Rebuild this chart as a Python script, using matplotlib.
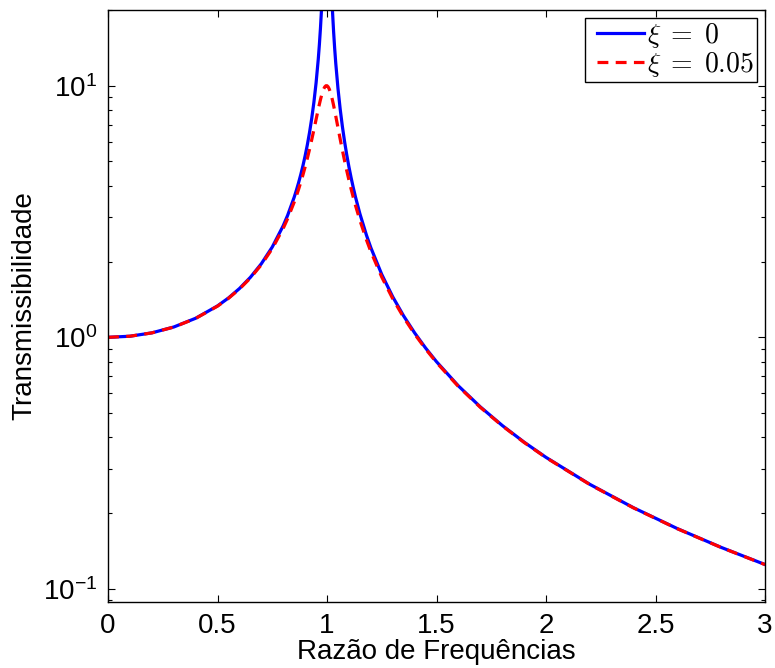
import numpy as np
import matplotlib
matplotlib.use("Agg")
import matplotlib.pyplot as plt
from matplotlib.lines import Line2D
from matplotlib.legend_handler import HandlerLine2D
from matplotlib.ticker import LogLocator, NullFormatter

plt.rcParams["font.family"] = ["Liberation Sans", "DejaVu Sans"]
plt.rcParams["mathtext.fontset"] = "cm"

# ── Data ─────────────────────────────────────────────────────────────────────

razao = [0.0, 0.1, 0.2, 0.3, 0.4, 0.5, 0.55, 0.6, 0.65, 0.7, 0.75, 0.8, 0.82,
         0.85, 0.86, 0.87, 0.88, 0.89, 0.9, 0.91, 0.92, 0.93, 0.94, 0.95,
         0.96, 0.965, 0.97, 0.975, 0.98, 0.985, 0.99, 0.995, 1.0, 1.005,
         1.01, 1.015, 1.02, 1.025, 1.03, 1.035, 1.04, 1.05, 1.06, 1.07,
         1.08, 1.09, 1.1, 1.11, 1.12, 1.13, 1.15, 1.18, 1.2, 1.25, 1.3,
         1.35, 1.4, 1.45, 1.5, 1.6, 1.7, 1.8, 1.9, 2.0, 2.2, 2.4, 2.6, 2.8,
         3.0]

# xi = 0 (blows up at r = 1)
t_xi0 = [1.0, 1.0101, 1.0417, 1.0989, 1.1905, 1.3333, 1.4337, 1.5625,
         1.7316, 1.9608, 2.2857, 2.7778, 3.0525, 3.6036, 3.8402, 4.1135,
         4.4326, 4.81, 5.2632, 5.8173, 6.5104, 7.4019, 8.5911, 10.2564,
         12.7551, 14.5402, 16.9205, 20.2532, 25.2525, 33.585, 50.25, 100.25,
         np.nan, 99.75, 49.75, 33.085, 24.7525, 19.7531, 16.4204, 14.04,
         12.2549, 9.7561, 8.0906, 6.9013, 6.0096, 5.3163, 4.7619, 4.3085,
         3.9308, 3.6114, 3.1008, 2.5484, 2.2727, 1.7778, 1.4493, 1.2158,
         1.0417, 0.907, 0.8, 0.641, 0.5291, 0.4464, 0.3831, 0.3333, 0.2604,
         0.2101, 0.1736, 0.1462, 0.125]

# xi = 0.05
t_xi005 = [1.0, 1.0101, 1.0414, 1.0983, 1.1891, 1.3304, 1.4292, 1.5557,
           1.7207, 1.9426, 2.2529, 2.7116, 2.9611, 3.4456, 3.6465, 3.873,
           4.1296, 4.4219, 4.7565, 5.1413, 5.5852, 6.097, 6.6837, 7.3459,
           8.0679, 8.4388, 8.8037, 9.1502, 9.4609, 9.718, 9.903, 10.0001,
           10.0, 9.9013, 9.7106, 9.4421, 9.115, 8.7474, 8.3571, 7.9593,
           7.5647, 6.8151, 6.1414, 5.5516, 5.0409, 4.5998, 4.2182, 3.8868,
           3.5976, 3.3437, 2.9207, 2.4405, 2.1926, 1.7354, 1.4242, 1.1998,
           1.0308, 0.8993, 0.7943, 0.6377, 0.527, 0.445, 0.3821, 0.3326,
           0.26, 0.2098, 0.1734, 0.1461, 0.1249]

xticks = [0, 0.5, 1, 1.5, 2, 2.5, 3]
xticklabels = ["0", "0.5", "1", "1.5", "2", "2.5", "3"]

# ── Plot ─────────────────────────────────────────────────────────────────────

fig = plt.figure(figsize=(7.75, 6.68), dpi=100)
ax = fig.add_axes([0.1394, 0.0988, 0.8477, 0.8862])

ax.plot(razao, t_xi0, color=(0, 0, 1), lw=2.3, label=r"$\xi\;=\;0$")
ax.plot(razao, t_xi005, color=(1, 0, 0), lw=2.3, dashes=(3.4, 2.3),
        label=r"$\xi\;=\;0.05$")

ax.set_yscale("log")
ax.set_xlim(0, 3)
ax.set_ylim(0.0887, 20)
ax.set_xticks(xticks)
ax.set_xticklabels(xticklabels)
ax.yaxis.set_major_locator(LogLocator(base=10, numticks=10))
ax.yaxis.set_minor_locator(LogLocator(base=10, subs=np.arange(2, 10), numticks=20))
ax.yaxis.set_minor_formatter(NullFormatter())

ax.tick_params(which="both", direction="in", top=True, right=True,
               labelsize=20, width=0.8)
ax.tick_params(which="major", length=5)
ax.tick_params(which="minor", length=3)
ax.tick_params(axis="x", pad=8)
ax.tick_params(axis="y", pad=8)
for sp in ax.spines.values():
    sp.set_linewidth(1.0)

ax.set_xlabel("Razão de Frequências", fontsize=20, labelpad=0)
ax.set_ylabel("Transmissibilidade", fontsize=20, labelpad=4)

# xpad pushes the legend line in from the frame, like the MATLAB legend
leg = ax.legend(loc="upper right", fontsize=20, fancybox=False,
                edgecolor="black", framealpha=1, borderaxespad=0.29,
                borderpad=0.1, handlelength=2.05, handletextpad=0.1,
                labelspacing=0.0,
                handler_map={Line2D: HandlerLine2D(xpad=0.35)})
leg.get_frame().set_linewidth(1.0)

fig.savefig("out.png", dpi=100)
plt.close(fig)
